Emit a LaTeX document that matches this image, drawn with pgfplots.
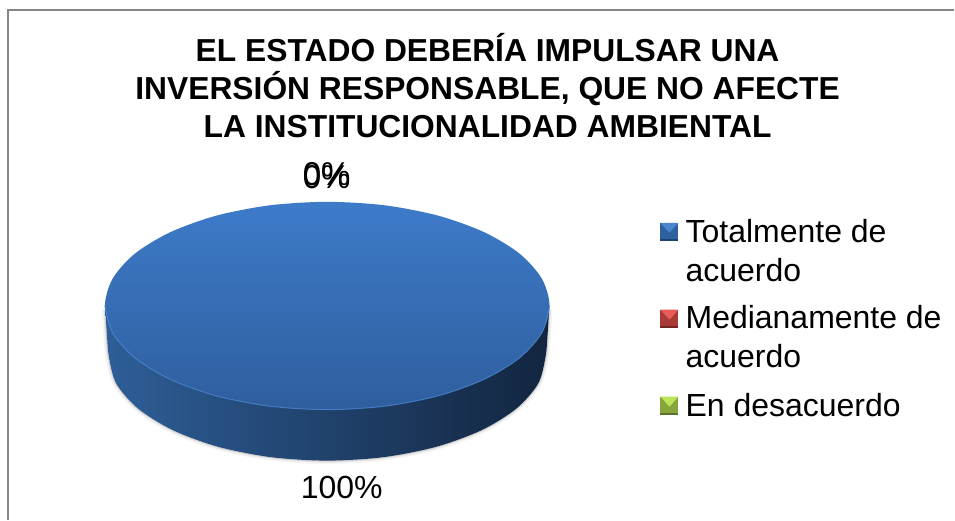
\documentclass[border=0pt]{standalone}
\usepackage{pgfplots}
\pgfplotsset{compat=1.18}
\usepackage{pgfplotstable}
\usepackage{fontspec}
\setmainfont{Liberation Sans}

\definecolor{chartframe}{HTML}{868686}
\definecolor{topa}{HTML}{3D7BC9}
\definecolor{topb}{HTML}{2F5E9E}
\definecolor{sidea}{HTML}{2E5E98}
\definecolor{sideb}{HTML}{1C3A66}
\definecolor{sidec}{HTML}{12253F}
\definecolor{rimblue}{HTML}{4A86CE}
\definecolor{bluemid}{HTML}{2F61A0}
\definecolor{bluelt}{HTML}{4A86D0}
\definecolor{bluedk}{HTML}{204270}
\definecolor{redmid}{HTML}{AA3A38}
\definecolor{redlt}{HTML}{E85C58}
\definecolor{reddk}{HTML}{742626}
\definecolor{grnmid}{HTML}{86A63C}
\definecolor{grnlt}{HTML}{BEE25A}
\definecolor{grndk}{HTML}{5C722C}

% pie outline in picture pixels, 15 degree steps
\pgfplotstableread{
x y
550 306
542.4 332.9
520.2 358
484.8 379.5
438.75 396.1
385.1 406.5
327.5 410
269.9 406.5
216.25 396.1
170.2 379.5
134.8 358
112.6 332.9
105 306
112.6 279.1
134.8 254
170.2 232.5
216.25 215.9
269.9 205.5
327.5 202
385.1 205.5
438.75 215.9
484.8 232.5
520.2 254
542.4 279.1
}\pietop

\pgfplotstableread{
x y
105.5 310
107 335
109 357
116.4 383.9
138.3 409
173 430.5
218.25 447.1
270.9 457.5
327.5 461
384.1 457.5
436.75 447.1
482 430.5
516.7 409
538.6 383.9
546 357
548 335
549.5 310
}\pieside

\pgfplotstableread{
x y
550 306
542.4 332.9
520.2 358
484.8 379.5
438.75 396.1
385.1 406.5
327.5 410
269.9 406.5
216.25 396.1
170.2 379.5
134.8 358
112.6 332.9
105 306
}\pierim

\begin{document}
\begin{tikzpicture}
\begin{axis}[
  hide axis,
  scale only axis,
  width=955pt, height=520pt,
  xmin=0, xmax=955, ymin=0, ymax=520,
  y dir=reverse,
  clip=false,
]
\path (axis cs:0,0) rectangle (axis cs:955,520);
\draw[chartframe,line width=1.6pt] (axis cs:8,520) -- (axis cs:8,10) -- (axis cs:955,10);

% soft shadow round the body
\addplot[smooth,draw=black,opacity=0.04,line width=7pt] table {\pieside};
\addplot[smooth,draw=black,opacity=0.06,line width=4pt] table {\pieside};
\addplot[smooth,draw=black,opacity=0.10,line width=2pt] table {\pieside};

% 100 % slice: side wall, top face, light rim
\addplot[smooth,draw=none,left color=sidea,middle color=sideb,right color=sidec] table {\pieside};
\addplot[smooth cycle,draw=none,top color=topa,bottom color=topb] table {\pietop};
\addplot[smooth,draw=rimblue,line width=1pt,opacity=0.8] table {\pierim};

% legend keys
\addplot[draw=none,fill=bluemid] coordinates {(661,223) (679,223) (679,241) (661,241)};
\addplot[draw=none,fill=bluelt] coordinates {(661,223) (679,223) (670,233)};
\addplot[draw=none,fill=bluedk] coordinates {(661,239) (679,239) (679,241) (661,241)};

\addplot[draw=none,fill=redmid] coordinates {(661,310) (679,310) (679,328) (661,328)};
\addplot[draw=none,fill=redlt] coordinates {(661,310) (679,310) (670,320)};
\addplot[draw=none,fill=reddk] coordinates {(661,326) (679,326) (679,328) (661,328)};

\addplot[draw=none,fill=grnmid] coordinates {(661,397) (679,397) (679,415) (661,415)};
\addplot[draw=none,fill=grnlt] coordinates {(661,397) (679,397) (670,407)};
\addplot[draw=none,fill=grndk] coordinates {(661,413) (679,413) (679,415) (661,415)};

% title
\node[font=\fontsize{31.8}{38}\selectfont\bfseries,align=center,anchor=center]
  at (axis cs:488,86) {EL ESTADO DEBERÍA IMPULSAR UNA\\INVERSIÓN RESPONSABLE, QUE NO AFECTE\\LA INSTITUCIONALIDAD AMBIENTAL};

% data labels
\node[font=\fontsize{33}{33}\selectfont] at (axis cs:327,174.5) {0\%};
\node[font=\fontsize{33}{33}\selectfont] at (axis cs:327,177.5) {0\%};
\node[font=\fontsize{32}{32}\selectfont] at (axis cs:342,488) {100\%};

% legend text
\node[font=\fontsize{32}{39}\selectfont,align=left,anchor=north west,inner sep=0pt]
  at (axis cs:686,219) {Totalmente de\\acuerdo};
\node[font=\fontsize{32}{39}\selectfont,align=left,anchor=north west,inner sep=0pt]
  at (axis cs:686,305) {Medianamente de\\acuerdo};
\node[font=\fontsize{32}{39}\selectfont,align=left,anchor=north west,inner sep=0pt]
  at (axis cs:686,393) {En desacuerdo};
\end{axis}
\end{tikzpicture}
\end{document}
